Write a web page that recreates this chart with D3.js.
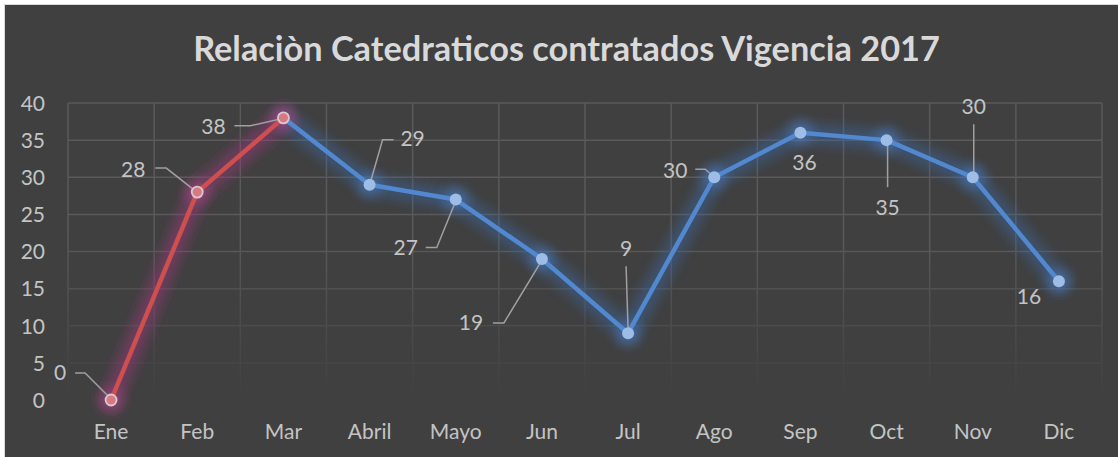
<!DOCTYPE html>
<html><head><meta charset="utf-8">
<script src="https://cdn.jsdelivr.net/npm/d3@7"></script>
<style>html,body{margin:0;padding:0;background:#fff;overflow:hidden}svg{display:block}</style>
</head><body>
<script>
const titleText = "Relaciòn Catedraticos contratados Vigencia 2017";
const months = ["Ene","Feb","Mar","Abril","Mayo","Jun","Jul","Ago","Sep","Oct","Nov","Dic"];
const values = [0,28,38,29,27,19,9,30,36,35,30,16];
const yTicks = [0,5,10,15,20,25,30,35,40];
const redCount = 3; // first segment (Ene-Mar) drawn red

// label layout (pixel offsets from each point), and leader polylines (offsets from point)
const labelOffsets = [[-51,-27],[-64,-22],[-70,9],[43,-46],[-50,48],[-71,64],[-2,-85],[-39,-7],[4,30],[1,68],[1,-71],[-30,15]];
const leaders = [
  [[-36,-27],[-26,-27],[-2,-3]],
  [[-42,-24],[-31,-24],[-3,-2]],
  [[-49,8],[-33,8],[-2,1]],
  [[24,-45],[13,-45],[1,-3]],
  [[-30,48],[-19,48],[-1,4]],
  [[-49,64],[-38,64],[-1,3]],
  [[-2,-67],[0,-3]],
  [[-19,-8],[-9,-8],[-1,-1]],
  null,
  [[1,47],[1,3]],
  [[1,-53],[1,-3]],
  null
];

(function(){
const W = 1118, H = 457;
const svg = d3.select("body").append("svg").attr("width", W).attr("height", H);
const defs = svg.append("defs");

function glow(id, sd) {
  const f = defs.append("filter").attr("id", id).attr("x","-50%").attr("y","-50%").attr("width","200%").attr("height","200%");
  f.append("feGaussianBlur").attr("in","SourceGraphic").attr("stdDeviation", sd);
}
glow("glowB", 6);
glow("glowR", 6);

const lg = defs.append("linearGradient").attr("id","fade").attr("gradientUnits","userSpaceOnUse")
  .attr("x1",0).attr("y1",103).attr("x2",0).attr("y2",400);
lg.append("stop").attr("offset","0").attr("stop-color","#fff");
lg.append("stop").attr("offset","0.45").attr("stop-color","#fff");
lg.append("stop").attr("offset","1").attr("stop-color","#000");
defs.append("mask").attr("id","gridMask").attr("maskUnits","userSpaceOnUse")
  .attr("x",0).attr("y",0).attr("width",W).attr("height",H)
  .append("rect").attr("x",0).attr("y",0).attr("width",W).attr("height",H).attr("fill","url(#fade)");

svg.append("rect").attr("x",4.5).attr("y",4.5).attr("width",W+10).attr("height",H+10)
  .attr("fill","#404040").attr("stroke","#d9d9d9").attr("stroke-width",1);

const pLeft = 68, pRight = 1102, pTop = 103, pBottom = 400;
const x = d3.scaleBand().domain(months).range([pLeft, pRight]).paddingInner(0).paddingOuter(0);
const y = d3.scaleLinear().domain([0,40]).range([pBottom, pTop]);
const cx = m => x(m) + x.bandwidth()/2;

const title = svg.append("text").attr("x", 566.5).attr("y", 61).attr("text-anchor","middle")
  .attr("font-family","Lato, 'Open Sans', sans-serif").attr("font-weight","bold")
  .attr("font-size", 34).attr("fill","#d9d9d9").text(titleText);
const tw = title.node().getComputedTextLength();
title.attr("font-size", 34 * 747 / tw);

const grid = svg.append("g").attr("mask","url(#gridMask)").attr("stroke","#5a5a5a").attr("stroke-width",1.5);
grid.selectAll("line.h").data(yTicks.filter(d=>d>0)).join("line").attr("class","h")
  .attr("x1",pLeft).attr("x2",pRight).attr("y1",d=>y(d)).attr("y2",d=>y(d));
const vb = months.map(m=>x(m)).concat([pRight]);
grid.selectAll("line.v").data(vb).join("line").attr("class","v")
  .attr("x1",d=>d).attr("x2",d=>d).attr("y1",pTop).attr("y2",pBottom);

const yAxis = d3.axisLeft(y).tickValues(yTicks).tickSize(0).tickPadding(0);
const yg = svg.append("g").attr("transform","translate(45,0)").call(yAxis);
yg.select(".domain").remove();
yg.selectAll("text").attr("font-family","Lato, sans-serif").attr("font-size",21).attr("fill","#c4c4c4").attr("dy","0.35em");

const xAxis = d3.axisBottom(x).tickSize(0).tickPadding(0);
const xg = svg.append("g").attr("transform","translate(0,422)").call(xAxis);
xg.select(".domain").remove();
xg.selectAll("text").attr("font-family","Lato, sans-serif").attr("font-size",21).attr("fill","#c4c4c4").attr("dy","0.8em");

const pts = months.map((m,i)=>({m, v: values[i], i}));
const line = d3.line().x(d=>cx(d.m)).y(d=>y(d.v));
const redPts = pts.slice(0, redCount);
const bluePts = pts.slice(redCount-1);

svg.append("path").attr("d", line(bluePts)).attr("fill","none").attr("stroke","#3b69a6").attr("stroke-width",20)
  .attr("stroke-opacity",0.45).attr("stroke-linejoin","round").attr("stroke-linecap","round").attr("filter","url(#glowB)");
svg.append("path").attr("d", line(redPts)).attr("fill","none").attr("stroke","#9c3a7c").attr("stroke-width",20)
  .attr("stroke-opacity",0.5).attr("stroke-linejoin","round").attr("stroke-linecap","round").attr("filter","url(#glowR)");
svg.append("g").selectAll("circle").data(pts).join("circle")
  .attr("cx",d=>cx(d.m)).attr("cy",d=>y(d.v)).attr("r",12)
  .attr("fill",d=>d.i<redCount?"#b04a8a":"#4a82cc").attr("fill-opacity",0.5)
  .attr("filter",d=>d.i<redCount?"url(#glowR)":"url(#glowB)");

svg.append("path").attr("d", line(bluePts)).attr("fill","none").attr("stroke","#5188cf").attr("stroke-width",4.5)
  .attr("stroke-linejoin","round");
svg.append("path").attr("d", line(redPts)).attr("fill","none").attr("stroke","#cf4f4f").attr("stroke-width",4.5)
  .attr("stroke-linejoin","round");

svg.append("g").selectAll("polyline").data(pts.filter(d=>leaders[d.i])).join("polyline")
  .attr("points", d => leaders[d.i].map(p => [cx(d.m)+p[0], y(d.v)+p[1]].join(",")).join(" "))
  .attr("fill","none").attr("stroke","#a0a0a0").attr("stroke-width",1.5);

svg.append("g").selectAll("circle").data(pts).join("circle")
  .attr("cx",d=>cx(d.m)).attr("cy",d=>y(d.v)).attr("r",d=>d.i<redCount?5.5:6)
  .attr("fill",d=>d.i<redCount?"#d67a80":"#9dbde6")
  .attr("stroke",d=>d.i<redCount?"#d8c8d4":"none").attr("stroke-width",1.8);

svg.append("g").selectAll("text").data(pts).join("text")
  .attr("x",d=>cx(d.m)+labelOffsets[d.i][0]).attr("y",d=>y(d.v)+labelOffsets[d.i][1])
  .attr("dy","0.35em").attr("text-anchor","middle")
  .attr("font-family","Lato, sans-serif").attr("font-size",21).attr("fill","#c4c4c4")
  .text(d=>d.v);
})();
</script>
</body></html>
